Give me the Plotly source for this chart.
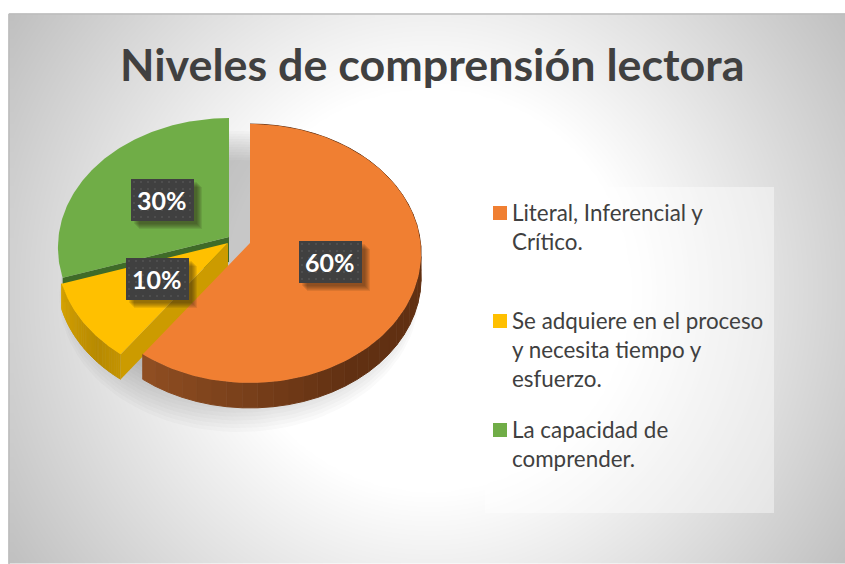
import numpy as np
import plotly.graph_objects as go

categories = ["Literal, Inferencial y<br>Crítico.", "Se adquiere en el proceso<br>y necesita tiempo y<br>esfuerzo.", "La capacidad de<br>comprender."]
shares = [60, 10, 30]
value_labels = ["60%", "10%", "30%"]
title = "Niveles de comprensión lectora"

# the axes run in page pixels so the drawing lines up with the picture
W, H = 845, 564
top_colors = ["#f07f32", "#ffc000", "#70ad47"]
radial_colors = ["#63300f", "#cc9b00", "#3f6b28"]
side_from = [(143, 78, 34), (214, 163, 0)]
side_to = [(97, 48, 18), (184, 138, 0)]
apexes = [(250, 243), (228, 243), (229, 237)]
label_pos = [(330, 262), (157, 279), (162, 200)]
legend_y = [213, 321, 430]
DEPTH = 25


def project(theta, apex):
    # tilted circle with a little perspective, theta clockwise from the top
    den = 1 + 0.081 * np.cos(theta)
    return apex[0] + 170.5 * np.sin(theta) / den, apex[1] - 128.6 * np.cos(theta) / den


def wedge(start, end, apex, scale=1.0):
    t = np.linspace(start, end, 120)
    x, y = project(t, (0, 0))
    return (
        np.r_[apex[0], apex[0] + x * scale, apex[0]],
        np.r_[apex[1], apex[1] + y * scale, apex[1]],
    )


def poly(x, y, color, name=None, seam=False):
    return go.Scatter(x=x, y=y, mode="lines", fill="toself", fillcolor=color,
                      line=dict(width=1 if seam else 0, color=color),
                      hoverinfo="skip", showlegend=False, name=name)


def mix(a, b, f):
    return "rgb(%d,%d,%d)" % tuple(a[i] + (b[i] - a[i]) * f for i in range(3))


fig = go.Figure()

# radial grey background
gx = np.linspace(12, W + 4, 120)
gy = np.linspace(17, H + 4, 80)
r = np.hypot(*np.meshgrid(gx - 430, gy - 290))
grey = np.clip(255 - 0.21 * np.clip(r - 200, 0, None), 0, 255)
fig.add_trace(go.Heatmap(x=gx, y=gy, z=grey, zmin=0, zmax=255, zsmooth="best", showscale=False, hoverinfo="skip",
                         colorscale=[[0, "#000000"], [1, "#ffffff"]]))

edges = np.cumsum([0] + shares) / sum(shares) * 2 * np.pi
slices = [(edges[i], edges[i + 1], apexes[i]) for i in range(3)]

# soft shadow of the whole pie, it also fills the gap between the slices
for cy, scale in zip(np.linspace(250, 285, 12), np.linspace(1.0, 1.05, 12)):
    x, y = wedge(0, 2 * np.pi, (239, cy), scale)
    fig.add_trace(poly(x, y, "rgba(60,60,60,0.028)"))

# back to front: green, yellow, orange
for i in [2, 1, 0]:
    start, end, apex = slices[i]
    if i < 2:  # the outer wall of the green slice stays hidden
        t = np.linspace(start, end, 46)
        sx, sy = project(t, apex)
        for k in range(len(t) - 1):
            if i == 0:
                f = max(0.0, 1 - (len(t) - 2 - k) / 14)
            else:
                f = min(1.0, abs(k - 12) / 33)
            fig.add_trace(poly([sx[k], sx[k + 1], sx[k + 1], sx[k]],
                               [sy[k], sy[k + 1], sy[k + 1] + DEPTH, sy[k] + DEPTH],
                               mix(side_to[i], side_from[i], f), seam=True))
    ex, ey = project(start, apex)
    fig.add_trace(poly([apex[0], ex, ex, apex[0]], [apex[1], ey, ey + DEPTH, apex[1] + DEPTH], radial_colors[i]))
    x, y = wedge(start, end, apex)
    fig.add_trace(poly(x, y, top_colors[i], name=categories[i]))

# value label boxes
for (cx, cy), text in zip(label_pos, value_labels):
    for off in (8, 7, 6, 5, 4, 3):
        fig.add_trace(poly([cx - 31 + off, cx + 32 + off, cx + 32 + off, cx - 31 + off],
                           [cy - 21 + off, cy - 21 + off, cy + 21 + off, cy + 21 + off], "rgba(40,30,20,0.10)"))
    fig.add_trace(poly([cx - 31, cx + 32, cx + 32, cx - 31], [cy - 21, cy - 21, cy + 21, cy + 21], "#404040"))
    dx, dy = np.meshgrid(np.arange(cx - 28, cx + 31, 7), np.arange(cy - 18, cy + 20, 7))
    fig.add_trace(go.Scatter(x=dx.ravel(), y=dy.ravel(), mode="markers", hoverinfo="skip", showlegend=False,
                             marker=dict(size=2, color="#4e4e4e", symbol="square")))
    fig.add_annotation(x=cx, y=cy, text="<b>%s</b>" % text, showarrow=False, xanchor="center", yanchor="middle",
                       font=dict(family="Lato", size=25, color="#ffffff"))

# legend panel
fig.add_trace(poly([485, 774, 774, 485], [187, 187, 513, 513], "rgba(255,255,255,0.42)"))
for name, color, ly in zip(categories, top_colors, legend_y):
    fig.add_trace(poly([493, 507, 507, 493], [ly - 7, ly - 7, ly + 7, ly + 7], color))
    fig.add_annotation(x=510, y=ly - 16, text=name, showarrow=False, xanchor="left", yanchor="top", align="left",
                       font=dict(family="Lato", size=22.4, color="#404040"))

fig.add_annotation(x=432, y=64, text="<b>%s</b>" % title, showarrow=False, xanchor="center", yanchor="middle",
                   font=dict(family="Lato", size=44.8, color="#404040"))

fig.update_layout(
    width=W, height=H, margin=dict(l=0, r=0, t=0, b=0), showlegend=False,
    paper_bgcolor="#ffffff", plot_bgcolor="#ffffff",
    xaxis=dict(range=[0, W], visible=False, fixedrange=True),
    yaxis=dict(range=[H, 0], visible=False, fixedrange=True),
    shapes=[
        dict(type="line", x0=9, x1=W, y0=14, y1=14, line=dict(color="#bdbdbd", width=1.5)),
        dict(type="line", x0=9, x1=9, y0=14, y1=H, line=dict(color="#bdbdbd", width=1.5)),
    ],
)
fig.write_html("out.html", config={"displayModeBar": False},
               post_script="document.body.style.margin='0';document.body.style.overflow='hidden';")
